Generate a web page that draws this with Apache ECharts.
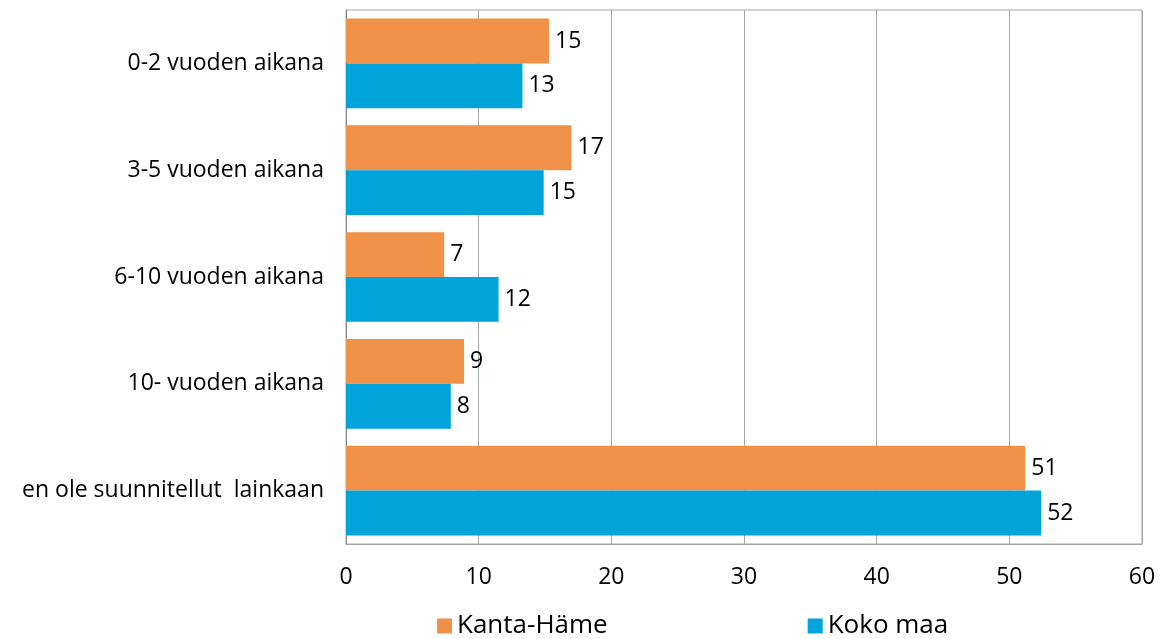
<!DOCTYPE html>
<html><head><meta charset="utf-8">
<script src="https://cdn.jsdelivr.net/npm/echarts@6/dist/echarts.min.js"></script>
<style>html,body{margin:0;padding:0;background:#fff}#c{width:1171px;height:639px}</style>
</head><body><div id="c"></div>
<script>
const categories = ["0-2 vuoden aikana", "3-5 vuoden aikana", "6-10 vuoden aikana", "10- vuoden aikana", "en ole suunnitellut  lainkaan"];
const kantaHame = [15.3, 17.0, 7.4, 8.9, 51.2];
const kokoMaa = [13.3, 14.9, 11.5, 7.9, 52.4];
const xTicks = [0, 10, 20, 30, 40, 50, 60];
const FONT = "Open Sans";
const chart = echarts.init(document.getElementById('c'));
const lbl = {show: true, position: 'right', distance: 6, color: '#000', fontFamily: FONT, fontSize: 23,
  formatter: p => Math.round(p.value)};
chart.setOption({
  animation: false,
  textStyle: {fontFamily: FONT},
  grid: {left: 346, right: 29, top: 10, bottom: 95, show: true, borderColor: '#A6A6A6', borderWidth: 1},
  legend: {top: 608, left: 432, itemWidth: 15, itemHeight: 15, itemGap: 200, icon: 'rect',
    textStyle: {fontFamily: FONT, fontSize: 26, color: '#000'}, data: ['Kanta-Häme', 'Koko maa']},
  xAxis: {type: 'value', min: xTicks[0], max: xTicks[xTicks.length - 1], interval: 10,
    axisLine: {show: true, lineStyle: {color: '#A6A6A6'}}, axisTick: {show: false},
    splitLine: {lineStyle: {color: '#A6A6A6'}},
    axisLabel: {color: '#000', fontFamily: FONT, fontSize: 23, margin: 22}},
  yAxis: {type: 'category', data: categories, inverse: true,
    axisLine: {show: true, lineStyle: {color: '#888'}}, axisTick: {show: false},
    axisLabel: {color: '#000', fontFamily: FONT, fontSize: 23, margin: 22}},
  series: [
    {name: 'Kanta-Häme', type: 'bar', data: kantaHame, itemStyle: {color: '#F0914A'}, barGap: '0%', barCategoryGap: '16%', label: lbl},
    {name: 'Koko maa', type: 'bar', data: kokoMaa, itemStyle: {color: '#00A3DA'}, barGap: '0%', barCategoryGap: '16%', label: lbl}
  ]
});
</script></body></html>
